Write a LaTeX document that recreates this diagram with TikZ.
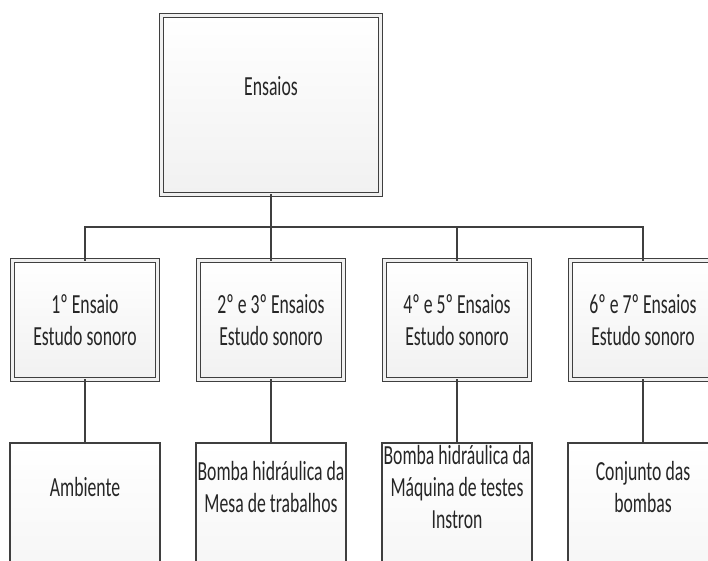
\documentclass[tikz,border=0pt]{standalone}
\usepackage{fontspec}
\setmainfont{Carlito}[FakeStretch=0.64]
\usepackage{tikz}
\usetikzlibrary{positioning,shadows,calc}
\definecolor{esline}{HTML}{3F3F3F}
\definecolor{estext}{HTML}{262626}
\tikzset{
esdouble/.style={draw=esline,line width=1.1pt,double=gray!12,double distance=2.4pt,outer sep=0pt},
esshade/.style={top color=white,bottom color=gray!11},
esshadow/.style={drop shadow={opacity=0.18,shadow xshift=0.8pt,shadow yshift=-0.8pt}},
esroot/.style={rectangle,esdouble,esshade,esshadow,minimum width=186pt,minimum height=152pt,inner sep=0pt,text height=12pt,text depth=28pt},
estest/.style={rectangle,esdouble,esshade,esshadow,align=center,minimum width=123pt,minimum height=101pt,inner sep=0pt},
esleaf/.style={rectangle,draw=esline,line width=1.3pt,esshade,anchor=north,minimum width=127.5pt,minimum height=170pt,outer sep=0pt},
esleaftext/.style={align=center,inner sep=0pt},
esconn/.style={draw=esline,line width=1.3pt}
}
\begin{document}
\begin{tikzpicture}[
x=0.85pt,
y=0.85pt,
every node/.style={font=\fontsize{23.5pt}{27.5pt}\selectfont,text=estext}
]
\useasboundingbox (0,0) rectangle (708,-560);
\node[esroot] (root) at (271,-105) {Ensaios};
\node[estest] (t1) at (85,-320) {1º Ensaio\\Estudo sonoro};
\node[estest] (t2) at (271,-320) {2º e 3º Ensaios\\Estudo sonoro};
\node[estest] (t3) at (457,-320) {4º e 5º Ensaios\\Estudo sonoro};
\node[estest] (t4) at (643,-320) {6º e 7º Ensaios\\Estudo sonoro};
\node[esleaf] (l1) at (85,-443) {};
\node[esleaf] (l2) at (271,-443) {};
\node[esleaf] (l3) at (457,-443) {};
\node[esleaf] (l4) at (643,-443) {};
\node[esleaftext] (l1text) at (85,-487) {Ambiente};
\node[esleaftext] (l2text) at (271,-487) {Bomba hidráulica da\\Mesa de trabalhos};
\node[esleaftext] (l3text) at (457,-487) {Bomba hidráulica da\\Máquina de testes\\Instron};
\node[esleaftext] (l4text) at (643,-487) {Conjunto das\\bombas};
\coordinate (bar) at (271,-227);
\draw[esconn] (root.south)--(bar);
\draw[esconn] (bar)-|(t1.north);
\draw[esconn] (bar)--(t2.north);
\draw[esconn] (bar)-|(t3.north);
\draw[esconn] (bar)-|(t4.north);
\draw[esconn] (t1.south)--(l1.north);
\draw[esconn] (t2.south)--(l2.north);
\draw[esconn] (t3.south)--(l3.north);
\draw[esconn] (t4.south)--(l4.north);
\end{tikzpicture}
\end{document}
